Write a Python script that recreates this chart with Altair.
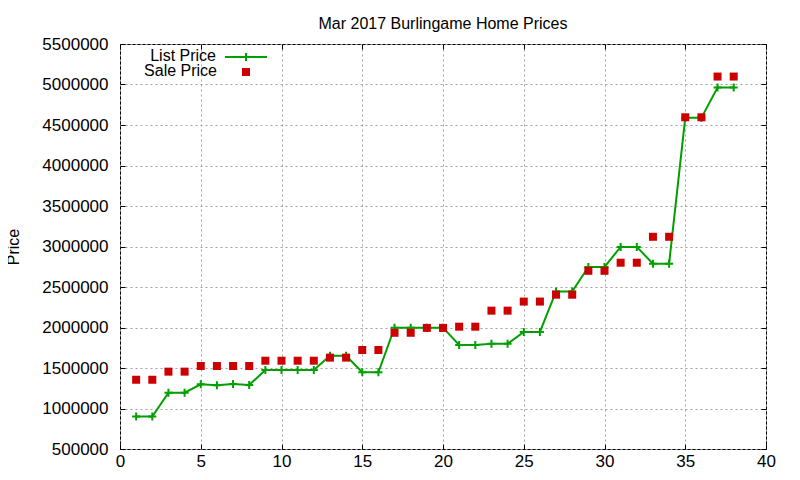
import altair as alt
import pandas as pd

# ---- data ----
listing_no = list(range(1, 39))
list_price = [900000, 900000, 1195000, 1195000, 1298000, 1288000, 1302000, 1290000,
              1475000, 1475000, 1475000, 1475000, 1650000, 1650000, 1447000, 1447000,
              1998000, 1998000, 1998000, 1998000, 1785000, 1785000, 1798000, 1798000,
              1945000, 1945000, 2445000, 2445000, 2748000, 2748000, 2995000, 2995000,
              2788000, 2788000, 4588000, 4588000, 4962000, 4962000]
sale_price = [1355000, 1355000, 1455000, 1455000, 1525000, 1525000, 1525000, 1525000,
              1590000, 1590000, 1590000, 1590000, 1628000, 1628000, 1722000, 1722000,
              1935000, 1935000, 1995000, 1995000, 2010000, 2010000, 2208000, 2208000,
              2320000, 2320000, 2405000, 2405000, 2700000, 2700000, 2800000, 2800000,
              3120000, 3120000, 4595000, 4595000, 5098000, 5098000]
x_ticks = [0, 5, 10, 15, 20, 25, 30, 35, 40]
y_ticks = [500000, 1000000, 1500000, 2000000, 2500000, 3000000, 3500000,
           4000000, 4500000, 5000000, 5500000]
legend_labels = ["List Price", "Sale Price"]
title_text = "Mar 2017 Burlingame Home Prices"
y_title = "Price"

df = pd.DataFrame({"n": listing_no, "list": list_price, "sale": sale_price})

FONT = "Liberation Sans"
GREEN = "#00a000"
RED = "#cc0000"
W, H = 646, 405
FS = 17

xs = alt.Scale(domain=[0, 40], nice=False, zero=False)
ys = alt.Scale(domain=[500000, 5500000], nice=False, zero=False)

grid_common = dict(grid=True, gridDash=[2, 3], gridColor="#a0a0a0", gridOpacity=1, gridWidth=1)
tick_common = dict(ticks=True, tickSize=5, tickColor="black", tickWidth=1, domain=False, offset=-5)

ax_bottom = alt.Axis(orient="bottom", values=x_ticks, title=None, labelFont=FONT,
                     labelFontSize=FS, labelColor="black", labelPadding=4, labelFlush=False,
                     **grid_common, **tick_common)
ax_left = alt.Axis(orient="left", values=y_ticks, format="d", labelFont=FONT,
                   labelFontSize=FS, labelColor="black", labelPadding=12, labelFlush=False,
                   title=y_title, titleFont=FONT, titleFontSize=16, titleFontWeight="normal",
                   titleColor="black", titleAngle=270, titleX=-112, titleY=H / 2,
                   titleAlign="center", titleBaseline="middle",
                   **grid_common, **tick_common)
ax_top = alt.Axis(orient="top", values=x_ticks, title=None, labels=False, grid=False,
                  **tick_common)
ax_right = alt.Axis(orient="right", values=y_ticks, title=None, labels=False, grid=False,
                    **tick_common)

base = alt.Chart(df)

line = base.mark_line(color=GREEN, strokeWidth=2).encode(
    x=alt.X("n:Q", scale=xs, axis=ax_bottom),
    y=alt.Y("list:Q", scale=ys, axis=ax_left),
)
pts = base.mark_point(shape="M-1,0L1,0M0,-1L0,1", size=64, color=GREEN, strokeWidth=2,
                      filled=False, opacity=1).encode(
    x=alt.X("n:Q", scale=xs, axis=ax_top),
    y=alt.Y("list:Q", scale=ys, axis=ax_right),
)
sq = base.mark_square(size=64, color=RED, opacity=1).encode(
    x=alt.X("n:Q", scale=xs, axis=None),
    y=alt.Y("sale:Q", scale=ys, axis=None),
)

# ---- title (as text above the plot area) ----
title_mark = alt.Chart(pd.DataFrame({"t": [title_text]})).mark_text(
    align="center", baseline="alphabetic", font=FONT, fontSize=16, color="black").encode(
    text="t:N", x=alt.value(W / 2), y=alt.value(-15))

# ---- key (gnuplot style: text then sample) ----
LFS = 16
leg1 = pd.DataFrame({"t": [legend_labels[0]]})
leg2 = pd.DataFrame({"t": [legend_labels[1]]})
leg_txt1 = alt.Chart(leg1).mark_text(align="right", baseline="alphabetic", font=FONT,
                                     fontSize=LFS, color="black").encode(
    text="t:N", x=alt.value(96), y=alt.value(17))
leg_txt2 = alt.Chart(leg2).mark_text(align="right", baseline="alphabetic", font=FONT,
                                     fontSize=LFS, color="black").encode(
    text="t:N", x=alt.value(97), y=alt.value(32))
leg_line = alt.Chart(leg1).mark_rule(color=GREEN, strokeWidth=2).encode(
    x=alt.value(105), x2=alt.value(147), y=alt.value(13))
leg_cross = alt.Chart(leg1).mark_point(shape="M-1,0L1,0M0,-1L0,1", size=64, color=GREEN,
                                       strokeWidth=2, filled=False, opacity=1).encode(
    x=alt.value(126), y=alt.value(13))
leg_sq = alt.Chart(leg2).mark_square(size=64, color=RED, opacity=1).encode(
    x=alt.value(126), y=alt.value(28))

chart = alt.layer(line, pts, sq, title_mark, leg_line, leg_cross, leg_txt1, leg_txt2,
                  leg_sq).resolve_axis(
    x="independent", y="independent"
).properties(
    width=W, height=H,
    autosize=alt.AutoSizeParams(type="none"),
    padding={"left": 112, "top": 36, "right": 20, "bottom": 24},
    background="white",
).configure_view(stroke="black", strokeWidth=1)

chart.save("out.html", embed_options={"renderer": "svg", "actions": False})
